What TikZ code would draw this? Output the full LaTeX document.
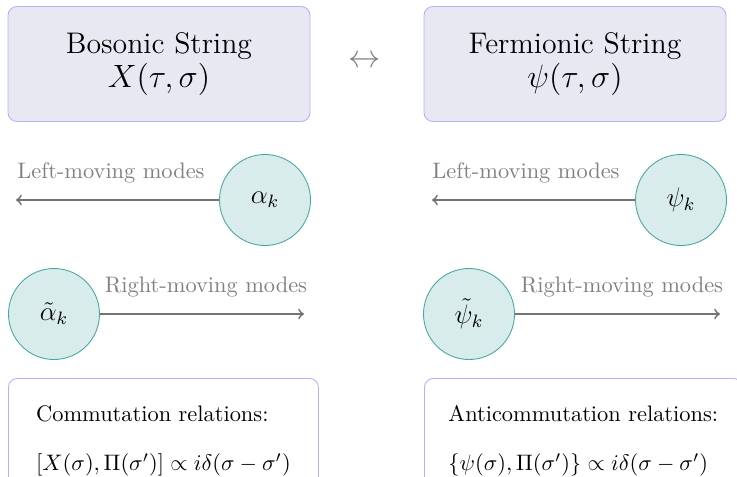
\documentclass[tikz,border=0pt]{standalone}
\usepackage{amsmath}
\begin{document}
\begin{tikzpicture}[x=0.4464pt,y=-0.4464pt]
\useasboundingbox (0,0) rectangle (737,476);
\tikzset{
 topbox/.style={draw=blue!30, fill={rgb,255:red,232;green,232;blue,243}, rounded corners=4pt, minimum width={302*0.4464pt}, minimum height={115*0.4464pt}, align=center, font=\fontsize{13.3}{14.8}\selectfont, line width=0.4pt},
 mode/.style={circle, draw=teal!70, fill=teal!15, minimum size={91*0.4464pt}, inner sep=0pt, font=\large},
 arr/.style={->, draw=black!55, thick},
 lab/.style={text=black!50, font=\normalsize},
 relbox/.style={draw=blue!30, fill=white, rounded corners=4pt, align=left, inner xsep={24*0.4464pt}, inner ysep={27*0.4464pt}, minimum width={310*0.4464pt}, anchor=north west, line width=0.4pt}
}
\node[topbox] (bos) at (159,64) {Bosonic String\\ $X(\tau,\sigma)$};
\node[topbox] (fer) at (575,64) {Fermionic String\\ $\psi(\tau,\sigma)$};
\node[text=black!50, font=\Large] (lr) at (365,62) {$\leftrightarrow$};

\node[mode] (al) at (265,200) {$\alpha_k$};
\node[mode] (alt) at (54,314) {$\tilde\alpha_k$};
\node[mode] (ps) at (681,200) {$\psi_k$};
\node[mode] (pst) at (469,314) {$\tilde\psi_k$};

\coordinate (e1) at (16,200);
\coordinate (e2) at (304,314);
\coordinate (e3) at (432,200);
\coordinate (e4) at (720,314);
\draw[arr] (al) -- (e1);
\draw[arr] (alt) -- (e2);
\draw[arr] (ps) -- (e3);
\draw[arr] (pst) -- (e4);

\node[lab] (l1) at (111,173) {Left-moving modes};
\node[lab] (l2) at (206,287) {Right-moving modes};
\node[lab] (l3) at (526,173) {Left-moving modes};
\node[lab] (l4) at (622,287) {Right-moving modes};

\node[relbox] (com) at (8,378) {Commutation relations:\\[10pt] $[X(\sigma),\Pi(\sigma')]\propto i\delta(\sigma-\sigma')$};
\node[relbox] (acom) at (424,378) {Anticommutation relations:\\[10pt] $\{\psi(\sigma),\Pi(\sigma')\}\propto i\delta(\sigma-\sigma')$};
\end{tikzpicture}
\end{document}
